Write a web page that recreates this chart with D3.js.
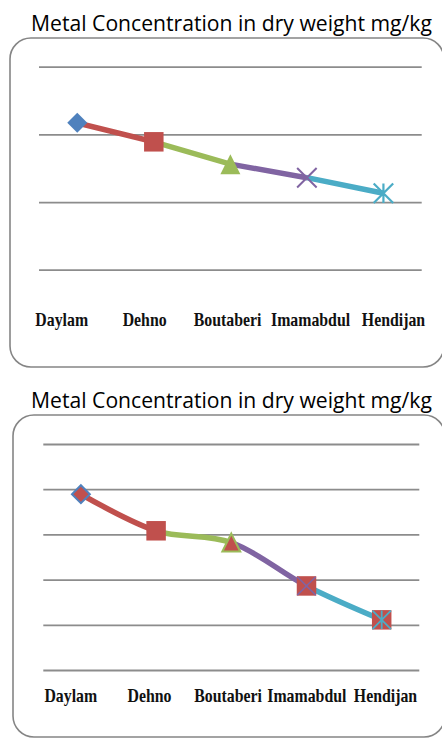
<!DOCTYPE html>
<html>
<head>
<meta charset="utf-8">
<script src="https://cdn.jsdelivr.net/npm/d3@7"></script>
<style>
  html, body { margin: 0; padding: 0; background: #fff; }
  svg { display: block; }
</style>
</head>
<body>
<svg id="chart" width="442" height="738"></svg>
<script>
// Sampling sites along the coast
const sites = ["Daylam", "Dehno", "Boutaberi", "Imamabdul", "Hendijan"];

// Upper panel: concentrations (mg/kg dry weight) and gridline values
const upperValues = [2.17, 1.89, 1.56, 1.36, 1.13];
const upperTicks = [0, 1, 2, 3];

// Lower panel
const lowerValues = [3.89, 3.08, 2.82, 1.86, 1.11];
const lowerTicks = [0, 1, 2, 3, 4, 5];

const titleText = "Metal Concentration in dry weight mg/kg";

// Office palette
const BLUE = "#4F81BD", RED = "#C0504D", GREEN = "#9BBB59", PURPLE = "#8064A2", CYAN = "#4BACC6";
const segmentColors = [RED, GREEN, PURPLE, CYAN];

const svg = d3.select("#chart");

// Custom symbol shapes (centred on their bounding box)
const triangleShape = {
  draw(ctx, size) {
    const w = Math.sqrt(size);
    ctx.moveTo(0, -w / 2);
    ctx.lineTo(w / 2, w / 2);
    ctx.lineTo(-w / 2, w / 2);
    ctx.closePath();
  }
};
const diamondShape = {
  draw(ctx, size) {
    const r = Math.sqrt(size) / 2;
    ctx.moveTo(0, -r); ctx.lineTo(r, 0); ctx.lineTo(0, r); ctx.lineTo(-r, 0); ctx.closePath();
  }
};
const squareShape = {
  draw(ctx, size) {
    const r = Math.sqrt(size) / 2;
    ctx.rect(-r, -r, 2 * r, 2 * r);
  }
};
const crossShape = {
  draw(ctx, size) {
    const r = Math.sqrt(size) / 2;
    ctx.moveTo(-r, -r); ctx.lineTo(r, r);
    ctx.moveTo(r, -r); ctx.lineTo(-r, r);
  }
};
const starShape = {
  draw(ctx, size) {
    const r = Math.sqrt(size) / 2;
    ctx.moveTo(-r, -r); ctx.lineTo(r, r);
    ctx.moveTo(r, -r); ctx.lineTo(-r, r);
    ctx.moveTo(0, -r); ctx.lineTo(0, r);
  }
};

function fitTitle(sel, width) {
  const len = sel.node().getComputedTextLength();
  const fs = parseFloat(sel.attr("font-size"));
  sel.attr("font-size", (fs * width / len).toFixed(2));
}

function drawPanel(cfg) {
  const g = svg.append("g");

  // Title
  const title = g.append("text")
    .attr("x", cfg.titleX)
    .attr("y", cfg.titleY)
    .attr("text-anchor", "middle")
    .attr("font-family", "'Open Sans', 'Noto Sans', sans-serif")
    .attr("font-size", 20)
    .attr("fill", "#000")
    .text(titleText);
  fitTitle(title, cfg.titleWidth);

  // Rounded frame
  g.append("rect")
    .attr("x", cfg.box.x).attr("y", cfg.box.y)
    .attr("width", cfg.box.w).attr("height", cfg.box.h)
    .attr("rx", 21).attr("ry", 21)
    .attr("fill", "none")
    .attr("stroke", "#858585")
    .attr("stroke-width", 1.6);

  const x = d3.scaleBand().domain(sites).range([cfg.plot.left, cfg.plot.right]);
  const y = d3.scaleLinear().domain(d3.extent(cfg.ticks)).range([cfg.plot.bottom, cfg.plot.top]);
  const cx = d => x(d) + x.bandwidth() / 2;

  // Horizontal gridlines
  g.append("g")
    .attr("transform", `translate(${cfg.plot.left},0)`)
    .call(d3.axisLeft(y).tickValues(cfg.ticks).tickSize(-(cfg.plot.right - cfg.plot.left)).tickFormat(""))
    .call(a => a.select(".domain").remove())
    .call(a => a.selectAll(".tick line").attr("stroke", "#8c8c8c").attr("stroke-width", 1.8));

  // Category labels (bold serif, slightly condensed)
  const lx = d3.scalePoint().domain(sites).range(cfg.labelRange);
  g.append("g")
    .selectAll("text")
    .data(sites)
    .join("text")
    .attr("transform", d => `translate(${lx(d)},${cfg.labelY}) scale(0.88,1)`)
    .attr("text-anchor", "middle")
    .attr("font-family", "'Liberation Serif', 'Times New Roman', serif")
    .attr("font-weight", "bold")
    .attr("font-size", 18)
    .attr("fill", "#111")
    .text(d => d);

  const pts = sites.map((s, i) => [cx(s), y(cfg.values[i])]);

  // Line, coloured segment by segment
  const line = d3.line().curve(cfg.smooth ? d3.curveCatmullRom.alpha(0.5) : d3.curveLinear);
  const clipId = cfg.id;
  const defs = g.append("defs");
  for (let i = 0; i < pts.length - 1; i++) {
    defs.append("clipPath").attr("id", `${clipId}-seg${i}`)
      .append("rect")
      .attr("x", pts[i][0]).attr("y", cfg.plot.top - 40)
      .attr("width", pts[i + 1][0] - pts[i][0])
      .attr("height", cfg.plot.bottom - cfg.plot.top + 80);
    g.append("path")
      .attr("d", line(pts))
      .attr("fill", "none")
      .attr("stroke", segmentColors[i])
      .attr("stroke-width", 5.5)
      .attr("clip-path", `url(#${clipId}-seg${i})`);
  }

  // Markers
  const mk = g.append("g");
  cfg.markers.forEach((m, i) => {
    const [px, py] = pts[i];
    m.forEach(layer => {
      mk.append("path")
        .attr("transform", `translate(${px},${py})`)
        .attr("d", d3.symbol().type(layer.shape).size(layer.size)())
        .attr("fill", layer.fill || "none")
        .attr("stroke", layer.stroke || "none")
        .attr("stroke-width", layer.sw || 0);
    });
  });
}

drawPanel({
  id: "upper",
  values: upperValues,
  ticks: upperTicks,
  smooth: false,
  titleX: 231.5, titleY: 31, titleWidth: 401,
  box: { x: 10, y: 38, w: 434, h: 329 },
  plot: { left: 39, right: 421.7, top: 66.7, bottom: 269.7 },
  labelRange: [61.7, 393.5],
  labelY: 326,
  markers: [
    [{ shape: diamondShape, size: 400, fill: BLUE }],
    [{ shape: squareShape, size: 380, fill: RED }],
    [{ shape: triangleShape, size: 400, fill: GREEN }],
    [{ shape: crossShape, size: 380, stroke: PURPLE, sw: 2 }],
    [{ shape: starShape, size: 380, stroke: CYAN, sw: 2.2 }]
  ]
});

drawPanel({
  id: "lower",
  values: lowerValues,
  ticks: lowerTicks,
  smooth: true,
  titleX: 231.5, titleY: 408, titleWidth: 401,
  box: { x: 13, y: 415, w: 432, h: 322 },
  plot: { left: 43.3, right: 419.3, top: 444, bottom: 670 },
  labelRange: [70.8, 385.5],
  labelY: 702,
  markers: [
    [{ shape: diamondShape, size: 320, fill: RED, stroke: BLUE, sw: 2 }],
    [{ shape: squareShape, size: 380, fill: RED }],
    [{ shape: triangleShape, size: 320, fill: RED, stroke: GREEN, sw: 2 }],
    [{ shape: squareShape, size: 380, fill: RED }, { shape: crossShape, size: 340, stroke: PURPLE, sw: 1.6 }],
    [{ shape: squareShape, size: 380, fill: RED }, { shape: starShape, size: 340, stroke: CYAN, sw: 1.8 }]
  ]
});
</script>
</body>
</html>
